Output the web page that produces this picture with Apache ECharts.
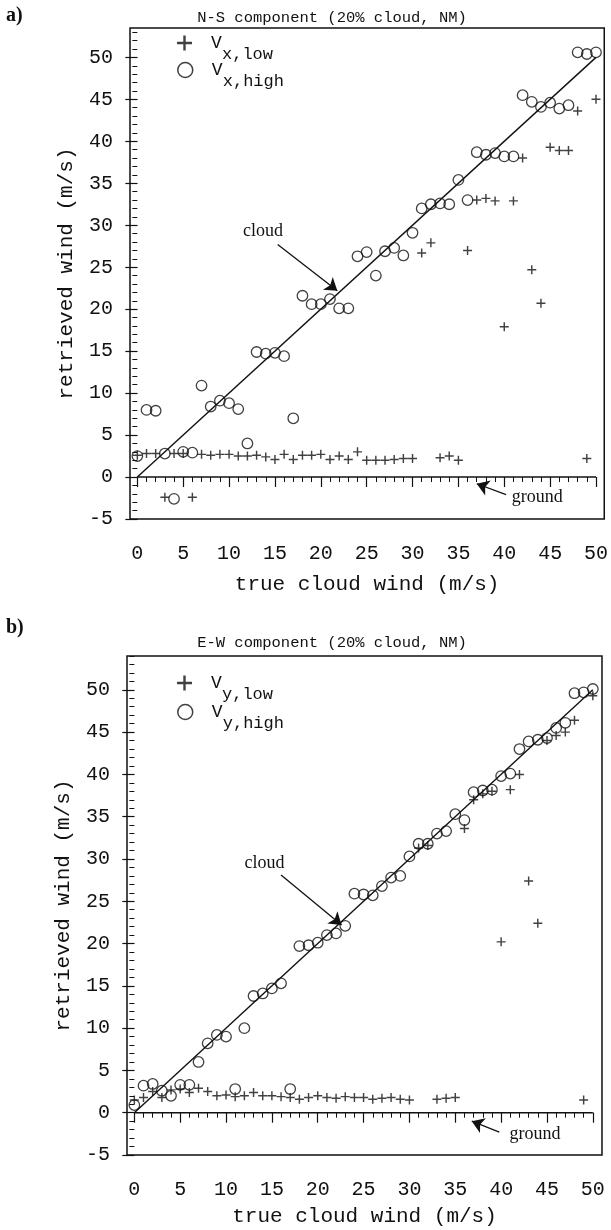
<!DOCTYPE html>
<html><head><meta charset="utf-8">
<script src="https://cdn.jsdelivr.net/npm/echarts@6/dist/echarts.min.js"></script>
<style>html,body{margin:0;padding:0;background:#fff}#c{width:611px;height:1230px}</style>
</head><body><div id="c"></div>
<script>
// ---- data ----
const trueWind = [0,1,2,3,4,5,6,7,8,9,10,11,12,13,14,15,16,17,18,19,20,21,22,23,24,25,26,27,28,29,30,31,32,33,34,35,36,37,38,39,40,41,42,43,44,45,46,47,48,49,50];
const vxLow  = [2.6,2.8,2.8,-2.4,2.8,2.8,-2.4,2.7,2.6,2.7,2.7,2.5,2.5,2.6,2.4,2.1,2.7,2.1,2.6,2.6,2.7,2.1,2.5,2.1,3.0,2.0,2.0,2.0,2.1,2.2,2.2,26.7,27.9,2.3,2.5,2.0,27.0,33.0,33.2,32.9,17.9,32.9,38.0,24.7,20.7,39.3,38.9,38.9,43.6,2.2,45.0];
const vxHigh = [2.5,8.0,7.9,2.8,-2.6,3.0,2.9,10.9,8.4,9.1,8.8,8.1,4.0,14.9,14.7,14.8,14.4,7.0,21.6,20.6,20.6,21.2,20.1,20.1,26.3,26.8,24.0,26.9,27.3,26.4,29.1,32.0,32.5,32.6,32.5,35.4,33.0,38.7,38.4,38.6,38.2,38.2,45.5,44.7,44.1,44.6,43.9,44.3,50.6,50.4,50.6];
const vyLow  = [1.5,1.8,2.5,1.8,2.7,2.8,2.4,2.9,2.5,2.0,2.1,1.9,2.0,2.4,2.0,2.0,1.9,1.8,1.6,1.8,2.0,1.8,1.7,1.9,1.8,1.8,1.6,1.7,1.8,1.6,1.5,31.3,31.6,1.6,1.7,1.8,33.6,37.0,37.7,38.0,20.2,38.2,40.0,27.4,22.4,44.0,44.6,45.0,46.4,1.5,49.3];
const vyHigh = [0.9,3.2,3.4,2.6,2.0,3.3,3.3,6.0,8.2,9.2,9.0,2.8,10.0,13.8,14.1,14.7,15.3,2.8,19.7,19.8,20.1,21.0,21.2,22.1,25.9,25.8,25.7,26.8,27.8,28.0,30.3,31.8,31.8,33.0,33.3,35.3,34.6,37.9,38.1,38.2,39.8,40.1,43.0,43.9,44.1,44.3,45.5,46.1,49.6,49.7,50.1];
const refLineX = [0,50];
const cloudLineY = [0,50];
const groundLineY = [0,0];
const xTickLabels = [0,5,10,15,20,25,30,35,40,45,50];
const yTickLabels = [-5,0,5,10,15,20,25,30,35,40,45,50];
const xMinorTicks = []; for (let v = 0; v <= 50; v++) xMinorTicks.push(v);
const yMinorTicks = []; for (let v = -5; v <= 54; v++) yMinorTicks.push(v);
const panelTitles = ['N-S component (20% cloud, NM)', 'E-W component (20% cloud, NM)'];
const panelTags = ['a)', 'b)'];
const seriesNames = [['Vx,low','Vx,high'],['Vy,low','Vy,high']];
const xAxisTitle = 'true cloud wind (m/s)';
const yAxisTitle = 'retrieved wind (m/s)';

// ---- styles / layout ----
const MONO = '"Liberation Mono", "DejaVu Sans Mono", monospace';
const SERIF = '"Liberation Serif", "DejaVu Serif", serif';
const INK = '#111';
const PLUS = 'path://M0,4.2H10V5.8H0Z M4.2,0H5.8V10H4.2Z';

const panels = [
  { grid:{left:130, top:28, width:475, height:491}, xMin:-0.8, xMax:50.9, yMax:53.5, low:vxLow, high:vxHigh,
    legendTops:[27,54], titleY:18, tagY:6, nameGapX:52,
    cloudText:[13.7,29.3], cloudArrow:[[15.3,27.7],[21.8,22.2]],
    groundText:[43.6,-2.4], groundArrow:[[40.2,-2.1],[37.0,-0.8]] },
  { grid:{left:127, top:656, width:475, height:499}, xMin:-0.8, xMax:51.0, yMax:54, low:vyLow, high:vyHigh,
    legendTops:[667,696], titleY:643, tagY:618, nameGapX:48,
    cloudText:[14.2,29.5], cloudArrow:[[16.0,28.1],[22.6,22.2]],
    groundText:[43.7,-2.5], groundArrow:[[39.8,-2.3],[36.8,-1.0]] }
];

const grids = [], xAxes = [], yAxes = [], series = [], legends = [], graphics = [];
panels.forEach((p, i) => {
  grids.push(Object.assign({show:true, borderColor:INK, borderWidth:1.5, backgroundColor:'transparent'}, p.grid));
  const axBase = {gridIndex:i, type:'value', splitLine:{show:false}, axisLine:{show:false}};
  xAxes.push(Object.assign({}, axBase, {min:p.xMin, max:p.xMax, position:'bottom', offset:3,
    axisTick:{show:true, customValues:xTickLabels, length:10, lineStyle:{color:INK, width:1.2}},
    axisLabel:{customValues:xTickLabels, margin:22, fontFamily:MONO, fontSize:20, color:INK},
    name:xAxisTitle, nameLocation:'middle', nameGap:p.nameGapX,
    nameTextStyle:{fontFamily:MONO, fontSize:21, color:INK}}));
  xAxes.push(Object.assign({}, axBase, {min:p.xMin, max:p.xMax, position:'bottom', offset:3,
    axisTick:{show:true, customValues:xMinorTicks, length:5, lineStyle:{color:INK, width:1}},
    axisLabel:{show:false}}));
  yAxes.push(Object.assign({}, axBase, {min:-5, max:p.yMax, position:'left',
    axisTick:{show:true, customValues:yTickLabels, length:12, lineStyle:{color:INK, width:1.2}},
    axisLabel:{customValues:yTickLabels, margin:17, fontFamily:MONO, fontSize:20, color:INK},
    name:yAxisTitle, nameLocation:'middle', nameGap:53, nameRotate:90,
    nameTextStyle:{fontFamily:MONO, fontSize:21, color:INK}}));
  yAxes.push(Object.assign({}, axBase, {min:-5, max:p.yMax, position:'left',
    axisTick:{show:true, customValues:yMinorTicks.filter(v => v <= p.yMax), length:5, lineStyle:{color:INK, width:1}},
    axisLabel:{show:false}}));
  const xi = i*2, yi = i*2;
  const annoLabel = {show:true, position:'inside', formatter:'{b}', fontFamily:SERIF, fontSize:18, color:INK};
  const arrow = (a) => ({silent:true, animation:false, symbol:['none','arrow'], symbolSize:12,
    lineStyle:{color:INK, width:1.3, type:'solid'}, label:{show:false},
    data:[[{coord:a[0]},{coord:a[1]}]]});
  series.push({type:'line', xAxisIndex:xi, yAxisIndex:yi, silent:true, symbol:'none',
    data:refLineX.map((x,k)=>[x, cloudLineY[k]]), lineStyle:{color:INK, width:1.4}, z:1,
    markLine:arrow(p.cloudArrow),
    markPoint:{silent:true, symbol:'circle', symbolSize:1, itemStyle:{color:'rgba(0,0,0,0)'}, label:annoLabel,
      data:[{name:'cloud', coord:p.cloudText}]}});
  series.push({type:'line', xAxisIndex:xi, yAxisIndex:yi, silent:true, symbol:'none',
    data:refLineX.map((x,k)=>[x, groundLineY[k]]), lineStyle:{color:INK, width:1.4}, z:1,
    markLine:arrow(p.groundArrow),
    markPoint:{silent:true, symbol:'circle', symbolSize:1, itemStyle:{color:'rgba(0,0,0,0)'}, label:annoLabel,
      data:[{name:'ground', coord:p.groundText}]}});
  series.push({type:'scatter', name:seriesNames[i][0], xAxisIndex:xi, yAxisIndex:yi, symbol:PLUS, symbolSize:9,
    itemStyle:{color:INK}, data:trueWind.map((x,k)=>[x, p.low[k]]), z:3});
  series.push({type:'scatter', name:seriesNames[i][1], xAxisIndex:xi, yAxisIndex:yi, symbol:'circle', symbolSize:10.5,
    itemStyle:{color:'rgba(0,0,0,0)', borderColor:INK, borderWidth:1.3}, data:trueWind.map((x,k)=>[x, p.high[k]]), z:2});
  const legendIcons = [
    {icon:PLUS, itemStyle:{color:INK}},
    {icon:'circle', itemStyle:{color:'rgba(0,0,0,0)', borderColor:INK, borderWidth:1.5}}
  ];
  [0,1].forEach(j => {
    legends.push({orient:'vertical', left:177, top:p.legendTops[j], padding:0, itemWidth:15, itemHeight:15,
      selectedMode:false,
      data:[Object.assign({name:seriesNames[i][j]}, legendIcons[j])],
      formatter: n => '{e| }\n{v|V}\n{s|' + n.slice(1) + '}',
      textStyle:{rich:{
        e:{fontFamily:MONO, fontSize:10, lineHeight:11},
        v:{fontFamily:MONO, fontSize:18, color:INK, lineHeight:12, padding:[0,0,0,14]},
        s:{fontFamily:MONO, fontSize:17, color:INK, lineHeight:10, padding:[0,0,0,25]}
      }}});
  });
  graphics.push({type:'text', x:332, y:p.titleY, style:{text:panelTitles[i], fontFamily:MONO, fontSize:15.5, fill:INK, textAlign:'center', textVerticalAlign:'middle'}});
  graphics.push({type:'text', x:6, y:p.tagY, style:{text:panelTags[i], fontFamily:SERIF, fontWeight:'bold', fontSize:20, fill:INK}});
});

const chart = echarts.init(document.getElementById('c'));
chart.setOption({
  animation:false, backgroundColor:'#fff',
  grid:grids, xAxis:xAxes, yAxis:yAxes, series:series, legend:legends, graphic:graphics
});
</script></body></html>
